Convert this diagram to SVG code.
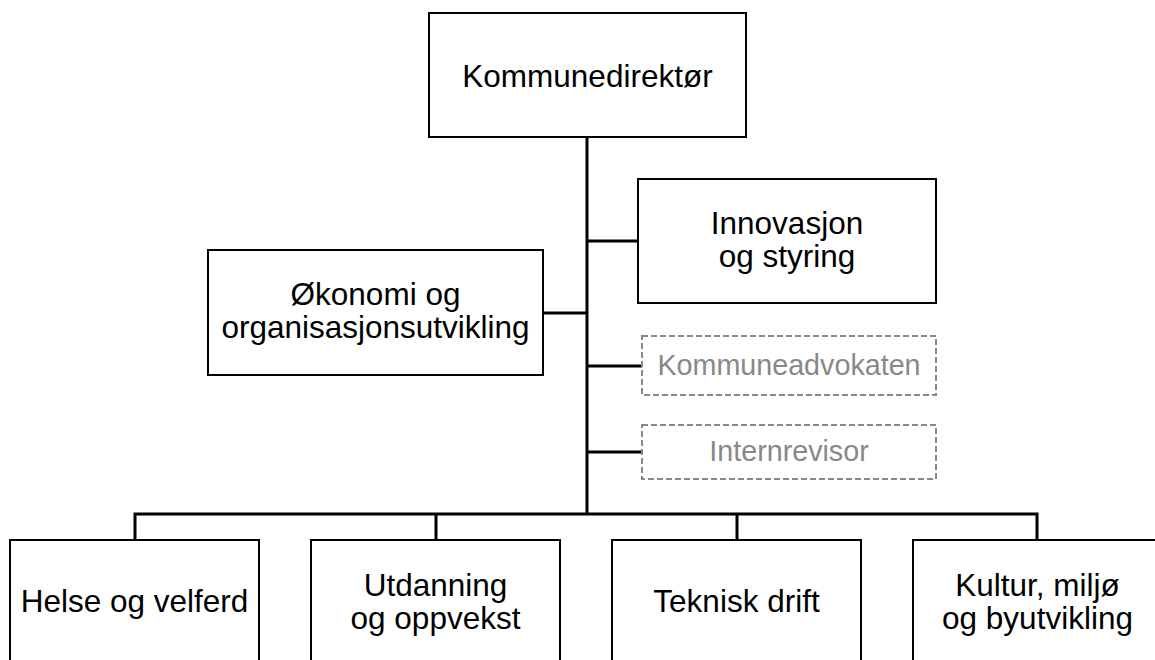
<svg xmlns="http://www.w3.org/2000/svg" width="1155" height="660" viewBox="0 0 1155 660">
<style>
.box{fill:#fff;stroke:#000;stroke-width:2}
.dbox{fill:#fff;stroke:#888;stroke-width:2;stroke-dasharray:6 3}
.t{font-family:"Liberation Sans",Arial,sans-serif;font-size:31.5px;fill:#000;text-anchor:middle}
.g{font-family:"Liberation Sans",Arial,sans-serif;font-size:28.7px;fill:#888;text-anchor:middle}
.c{fill:none;stroke:#000;stroke-width:3}
</style>
<rect width="1155" height="660" fill="#fff"/>
<g id="connectors">
<line class="c" x1="587" y1="137" x2="587" y2="515"/>
<line class="c" x1="587" y1="241" x2="638" y2="241"/>
<line class="c" x1="543" y1="313" x2="587" y2="313"/>
<line class="c" x1="587" y1="366" x2="642" y2="366"/>
<line class="c" x1="587" y1="452" x2="642" y2="452"/>
<polyline class="c" points="135,540 135,514 1037,514 1037,540"/>
<line class="c" x1="436" y1="514" x2="436" y2="540"/>
<line class="c" x1="737" y1="514" x2="737" y2="540"/>
</g>
<g id="kommunedirektor">
<rect class="box" x="429" y="13" width="317" height="124"/>
<text class="t" x="587.5" y="87">Kommunedirektør</text>
</g>
<g id="innovasjon">
<rect class="box" x="638" y="179" width="298" height="124"/>
<text class="t" x="787" y="234">Innovasjon</text>
<text class="t" x="787" y="267">og styring</text>
</g>
<g id="okonomi">
<rect class="box" x="208" y="250" width="335" height="125"/>
<text class="t" x="375.5" y="305">Økonomi og</text>
<text class="t" x="375.5" y="338">organisasjonsutvikling</text>
</g>
<g id="kommuneadvokaten">
<rect class="dbox" x="642" y="336" width="294" height="59"/>
<text class="g" x="789" y="375">Kommuneadvokaten</text>
</g>
<g id="internrevisor">
<rect class="dbox" x="642" y="425" width="294" height="54"/>
<text class="g" x="789" y="461">Internrevisor</text>
</g>
<g id="helse">
<rect class="box" x="10" y="540" width="249" height="160"/>
<text class="t" x="134.5" y="611.5">Helse og velferd</text>
</g>
<g id="utdanning">
<rect class="box" x="311" y="540" width="249" height="160"/>
<text class="t" x="435.5" y="595.5">Utdanning</text>
<text class="t" x="435.5" y="628.5">og oppvekst</text>
</g>
<g id="teknisk">
<rect class="box" x="612" y="540" width="249" height="160"/>
<text class="t" x="736.5" y="611.5">Teknisk drift</text>
</g>
<g id="kultur">
<rect class="box" x="913" y="540" width="249" height="160"/>
<text class="t" x="1037.5" y="595.5">Kultur, miljø</text>
<text class="t" x="1037.5" y="628.5">og byutvikling</text>
</g>
</svg>
